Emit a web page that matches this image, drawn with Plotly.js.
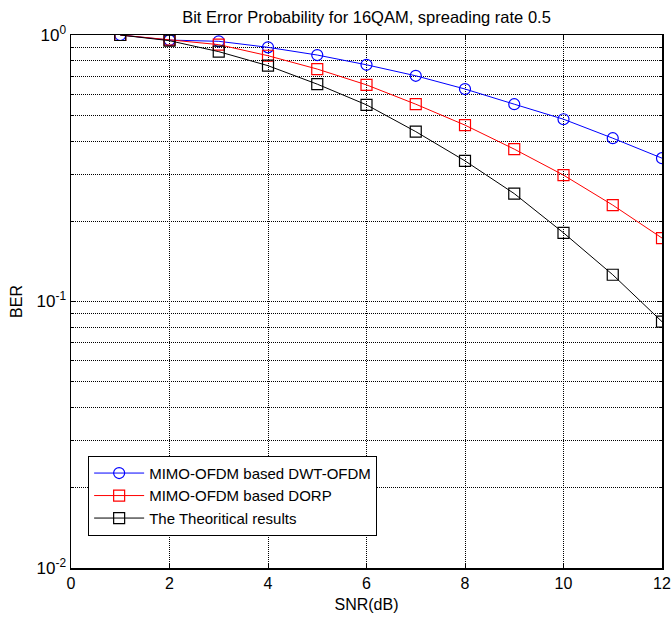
<!DOCTYPE html>
<html>
<head>
<meta charset="utf-8">
<script src="https://cdn.plot.ly/plotly-3.0.1.min.js"></script>
<style>html,body{margin:0;padding:0;background:#fff;}</style>
</head>
<body>
<div id="chart" style="width:671px;height:619px;"></div>
<script>
const snr = [1,2,3,4,5,6,7,8,9,10,11,12];
const berDWT = [1.0,0.957,0.947,0.899,0.841,0.773,0.703,0.627,0.550,0.483,0.410,0.345];
const berDORP = [1.0,0.960,0.920,0.836,0.745,0.650,0.550,0.459,0.373,0.298,0.230,0.173];
const berTheory = [1.0,0.952,0.866,0.767,0.654,0.547,0.434,0.337,0.254,0.181,0.126,0.084];
const names = ["MIMO-OFDM based DWT-OFDM","MIMO-OFDM based DORP","The Theoritical results"];
const xTicks = [0,2,4,6,8,10,12];
const yTicks = [0.01,0.1,1];
const yTickText = ["10<sup>-2</sup>","10<sup>-1</sup>","10<sup>0</sup>"];

const traces = [
  {x: snr, y: berDWT, name: names[0], mode: "lines+markers",
   line: {color: "#0000ff", width: 1},
   marker: {symbol: "circle-open", size: 11, color: "#0000ff", line: {width: 1.2}}},
  {x: snr, y: berDORP, name: names[1], mode: "lines+markers",
   line: {color: "#ff0000", width: 1},
   marker: {symbol: "square-open", size: 11, color: "#ff0000", line: {width: 1.2}}},
  {x: snr, y: berTheory, name: names[2], mode: "lines+markers",
   line: {color: "#000000", width: 1},
   marker: {symbol: "square-open", size: 11, color: "#000000", line: {width: 1.2}}}
];

const layout = {
  width: 671, height: 619,
  margin: {l: 71, r: 9, t: 35, b: 51},
  paper_bgcolor: "#fff", plot_bgcolor: "#fff",
  font: {family: "Liberation Sans, Arial, sans-serif", size: 15, color: "#000"},
  title: {text: "Bit Error Probability for 16QAM, spreading rate 0.5",
          x: 0.5, xref: "paper", y: 15, yref: "container", yanchor: "middle",
          font: {size: 16.5, color: "#000"}},
  xaxis: {
    range: [0, 12], tickvals: xTicks, ticktext: xTicks.map(String),
    showgrid: true, gridcolor: "#000", griddash: "1px,1px", gridwidth: 1,
    showline: true, linecolor: "#000", linewidth: 1.5, mirror: "allticks",
    ticks: "inside", ticklen: 5, tickcolor: "#000", zeroline: false,
    ticklabeloverflow: "allow",
    tickfont: {family: "Liberation Sans, Arial, sans-serif", size: 16, color: "#000"},
    title: {text: "SNR(dB)", font: {size: 16}, standoff: 8}
  },
  yaxis: {
    type: "log", range: [-2, 0], tickvals: yTicks, ticktext: yTickText,
    showgrid: true, gridcolor: "#000", griddash: "1px,1px", gridwidth: 1,
    showline: true, linecolor: "#000", linewidth: 1.5, mirror: "allticks",
    ticks: "inside", ticklen: 5, tickcolor: "#000", zeroline: false,
    tickfont: {family: "Liberation Sans, Arial, sans-serif", size: 17, color: "#000"},
    minor: {showgrid: true, gridcolor: "#000", griddash: "1px,1px", gridwidth: 1,
            ticks: "inside", ticklen: 3, tickcolor: "#000",
            tickvals: [0.02,0.03,0.04,0.05,0.06,0.07,0.08,0.09,0.2,0.3,0.4,0.5,0.6,0.7,0.8,0.9]},
    title: {text: "BER", font: {size: 16}, standoff: 10}
  },
  legend: {
    x: 0.029, y: 0.2105, xanchor: "left", yanchor: "top",
    bgcolor: "#fff", bordercolor: "#000", borderwidth: 1,
    font: {size: 15}, tracegroupgap: 0, itemwidth: 50
  },
  showlegend: true
};

Plotly.newPlot("chart", traces, layout, {displayModeBar: false, staticPlot: true});
</script>
</body>
</html>
